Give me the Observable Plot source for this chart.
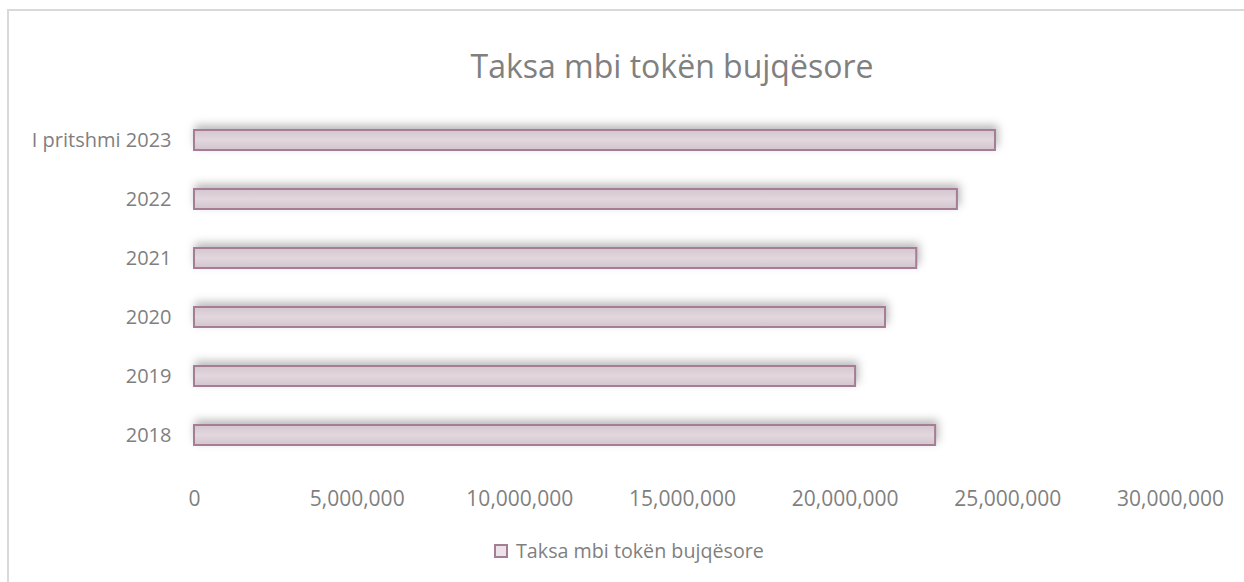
<!DOCTYPE html>
<html>
<head>
<meta charset="utf-8">
<script src="https://cdn.jsdelivr.net/npm/d3@7"></script>
<script src="https://cdn.jsdelivr.net/npm/@observablehq/plot@0.6"></script>
<style>
  html, body { margin: 0; padding: 0; background: #fff; }
  #wrap { position: relative; width: 1244px; height: 582px; overflow: hidden; font-family: "Open Sans", sans-serif; }
  #frame { position: absolute; left: 7px; top: 9px; right: -10px; bottom: -10px; border-top: 2px solid #d9d9d9; border-left: 2px solid #d9d9d9; }
  #title { position: absolute; left: 0; width: 1344px; top: 44px; text-align: center; font-size: 32px; color: #808080; line-height: 44px; }
  #chart { position: absolute; left: 0; top: 0; }
  #legend { position: absolute; left: 494px; top: 538px; font-size: 19.7px; color: #7f7f7f; line-height: 26px; display: flex; align-items: center; }
  #legend .sw { width: 10px; height: 10px; background: #ece3e8; border: 2px solid #a57d95; margin-right: 8px; }
  #chart svg g[aria-label="bar"] rect { filter: drop-shadow(2px -4px 4px rgba(0,0,0,0.28)); }
</style>
</head>
<body>
<div id="wrap">
  <div id="frame"></div>
  <div id="chart"></div>
  <div id="title">Taksa mbi tokën bujqësore</div>
  <div id="legend"><div class="sw"></div><span>Taksa mbi tokën bujqësore</span></div>
</div>
<script>
const categories = ["I pritshmi 2023", "2022", "2021", "2020", "2019", "2018"];
const values = [24620000, 23450000, 22200000, 21240000, 20320000, 22780000];
const xTicks = [0, 5000000, 10000000, 15000000, 20000000, 25000000, 30000000];
const seriesName = "Taksa mbi tokën bujqësore";

const data = categories.map((c, i) => ({category: c, value: values[i]}));

const chart = Plot.plot({
  width: 1244,
  height: 530,
  marginLeft: 194,
  marginRight: 74,
  marginTop: 88,
  marginBottom: 44,
  style: {fontFamily: "Open Sans, sans-serif", color: "#7f7f7f", background: "transparent", overflow: "visible"},
  x: {domain: [0, 30000000], ticks: xTicks, tickFormat: d3.format(","), label: null},
  y: {domain: categories, padding: 0.664, label: null},
  marks: [
    Plot.axisX({ticks: xTicks, tickFormat: d3.format(","), tickSize: 0, tickPadding: 5, fontSize: 21, fill: "#7f7f7f", label: null}),
    Plot.axisY({tickSize: 0, tickPadding: 23, fontSize: 20, fill: "#7f7f7f", label: null}),
    Plot.barX(data, {x: "value", y: "category", fill: "url(#barGrad)", stroke: "#a57d95", strokeWidth: 2, title: d => seriesName})
  ]
});

const ns = "http://www.w3.org/2000/svg";
const defs = document.createElementNS(ns, "defs");
defs.innerHTML = `<linearGradient id="barGrad" x1="0" y1="0" x2="0" y2="1">
  <stop offset="0" stop-color="#d5c6cf"/>
  <stop offset="0.5" stop-color="#e2d7dd"/>
  <stop offset="1" stop-color="#d3c4cd"/>
</linearGradient>`;
chart.insertBefore(defs, chart.firstChild);
document.getElementById("chart").appendChild(chart);
</script>
</body>
</html>
